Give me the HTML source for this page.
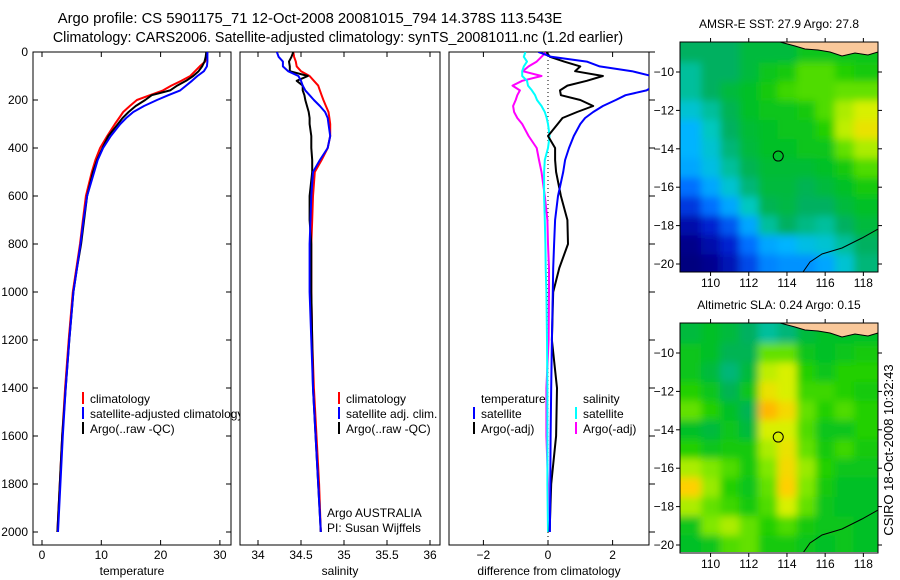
<!DOCTYPE html>
<html><head><meta charset="utf-8">
<style>
html,body{margin:0;padding:0;background:#fff;}
svg{display:block;font-family:"Liberation Sans",sans-serif;}
text{fill:#000;}
</style></head>
<body>
<svg id="fig" width="900" height="580" viewBox="0 0 900 580" xmlns="http://www.w3.org/2000/svg">
<defs>
<clipPath id="c1"><rect x="33" y="52" width="198" height="493"/></clipPath>
<clipPath id="c2"><rect x="240" y="52" width="200" height="493"/></clipPath>
<clipPath id="c3"><rect x="449" y="52" width="200" height="493"/></clipPath>
<clipPath id="cm1"><rect x="680" y="42" width="198" height="230"/></clipPath>
<clipPath id="cm2"><rect x="680" y="323" width="198" height="229"/></clipPath>
<filter id="blur" x="-10%" y="-10%" width="120%" height="120%"><feGaussianBlur stdDeviation="4"/></filter>
</defs>
<text x="310" y="23" font-size="14.8" text-anchor="middle">Argo profile: CS 5901175_71 12-Oct-2008 20081015_794 14.378S 113.543E</text>
<text x="338" y="42" font-size="14.3" text-anchor="middle">Climatology: CARS2006. Satellite-adjusted climatology: synTS_20081011.nc (1.2d earlier)</text>
<g id="g1"></g>
<g id="g2"></g>
<g id="g3"></g>
<g id="m1"></g>
<g id="m2"></g>
<text transform="translate(893,450) rotate(-90)" font-size="13" text-anchor="middle">CSIRO 18-Oct-2008 10:32:43</text>
</svg>
<script>
const depths=[0,20,40,60,80,100,120,140,160,180,200,225,250,275,300,350,400,450,500,600,700,800,900,1000,1200,1400,1600,1800,2000];
const tempClim=[27.9,27.8,27.5,26.6,25.8,25,23.5,21.8,20.4,18.2,16,14.8,13.7,13,12.3,11,9.8,9,8.4,7.4,6.9,6.4,5.8,5.2,4.5,3.9,3.4,3,2.6];
const tempSat=[27.9,27.9,27.9,27.8,27.3,26.2,25.3,24.3,23.3,21.3,19.4,17.2,15.4,14.2,13.2,11.6,10.3,9.4,8.8,7.6,7,6.5,5.9,5.3,4.6,4,3.5,3.1,2.7];
const tempArgo=[27.7,27.6,27.4,27.0,26.4,25.5,24.3,22.8,21.6,18.5,17.4,15.8,14.6,13.6,12.8,11.2,10.2,9.3,8.6,7.6,7.1,6.6,5.9,5.3,4.6,4,3.4,3,2.6];
const salClim=[34.41,34.42,34.44,34.45,34.5,34.6,34.65,34.7,34.72,34.74,34.76,34.79,34.82,34.83,34.84,34.84,34.81,34.74,34.66,34.64,34.63,34.62,34.62,34.62,34.63,34.65,34.68,34.71,34.73];
const salSat=[34.22,34.24,34.29,34.29,34.35,34.47,34.5,34.52,34.55,34.6,34.65,34.72,34.78,34.81,34.82,34.84,34.81,34.72,34.64,34.62,34.61,34.6,34.6,34.6,34.62,34.64,34.67,34.7,34.73];
const salArgo=[34.41,34.39,34.36,34.37,34.37,34.58,34.45,34.52,34.52,34.54,34.55,34.57,34.59,34.6,34.6,34.62,34.62,34.63,34.63,34.6,34.6,34.62,34.62,34.62,34.63,34.64,34.67,34.7,34.73];
const dTempSat=[-0.3,0.1,1.2,1.6,2.6,3.2,3.5,3.3,3.05,2.4,2.1,1.7,1.4,1.15,1.0,0.8,0.65,0.53,0.47,0.31,0.22,0.19,0.16,0.15,0.12,0.1,0.08,0.07,0.06];
const dTempArgo=[-0.05,0.06,0.5,1.0,0.84,1.7,1.2,0.6,0.37,0.4,1.0,1.4,0.9,0.45,0.3,0.0,0.22,0.22,0.25,0.4,0.6,0.62,0.35,0.16,0.12,0.28,0.25,0.1,0.05];
const dSalSat=[-0.7,-0.75,-0.65,-0.75,-0.8,-0.8,-0.65,-0.62,-0.5,-0.4,-0.34,-0.2,-0.1,-0.04,0.0,0.05,0.0,-0.1,-0.12,-0.12,-0.1,-0.08,-0.07,-0.05,-0.03,-0.02,-0.02,-0.02,0.0];
const dSalArgo=[-0.05,-0.2,-0.35,-0.6,-0.78,-0.2,-0.8,-1.1,-0.87,-0.95,-1.0,-1.08,-1.05,-0.95,-0.8,-0.6,-0.35,-0.28,-0.2,-0.1,-0.02,0.0,0.03,0.03,0.02,-0.05,-0.05,0.0,0.02];
const depthTicks=[0,200,400,600,800,1000,1200,1400,1600,1800,2000];
const tempTicks=[0,10,20,30];
const salTicks=[34,34.5,35,35.5,36];
const diffTicks=[-2,0,2];
const mapLons=[109,110,111,112,113,114,115,116,117,118];
const mapLats=[-9,-10,-11,-12,-13,-14,-15,-16,-17,-18,-19,-20];
const lonTicks=[110,112,114,116,118];
const latTicks=[-10,-12,-14,-16,-18,-20];
const sstGrid=[
[0.5,0.5,0.5,0.55,0.55,0.55,0.6,0.6,0.6,0.6],
[0.45,0.5,0.5,0.55,0.6,0.62,0.7,0.7,0.65,0.62],
[0.45,0.5,0.55,0.58,0.62,0.68,0.7,0.7,0.72,0.72],
[0.4,0.45,0.52,0.58,0.6,0.6,0.62,0.7,0.8,0.85],
[0.35,0.42,0.5,0.56,0.58,0.6,0.6,0.65,0.82,0.88],
[0.35,0.4,0.48,0.55,0.58,0.58,0.6,0.6,0.72,0.8],
[0.33,0.38,0.45,0.52,0.56,0.56,0.56,0.58,0.62,0.7],
[0.25,0.33,0.4,0.48,0.55,0.55,0.52,0.55,0.58,0.62],
[0.18,0.25,0.33,0.42,0.52,0.54,0.5,0.5,0.55,0.58],
[0.08,0.15,0.22,0.33,0.45,0.5,0.47,0.45,0.5,0.55],
[0.02,0.08,0.15,0.25,0.33,0.35,0.38,0.4,0.45,0.5],
[0.0,0.03,0.1,0.2,0.28,0.3,0.3,0.33,0.4,0.48]];
const slaGrid=[
[0.55,0.58,0.55,0.5,0.45,0.48,0.55,0.58,0.58,0.58],
[0.6,0.58,0.52,0.52,0.72,0.72,0.6,0.58,0.6,0.62],
[0.6,0.55,0.48,0.55,0.82,0.85,0.65,0.6,0.65,0.65],
[0.65,0.6,0.52,0.6,0.88,0.85,0.68,0.68,0.65,0.62],
[0.72,0.65,0.58,0.52,0.95,0.9,0.72,0.65,0.7,0.65],
[0.58,0.55,0.6,0.55,0.85,0.85,0.7,0.6,0.6,0.65],
[0.65,0.6,0.62,0.62,0.8,0.88,0.72,0.62,0.68,0.62],
[0.8,0.75,0.7,0.62,0.75,0.9,0.78,0.65,0.6,0.6],
[0.92,0.78,0.65,0.6,0.72,0.92,0.75,0.62,0.58,0.58],
[0.8,0.72,0.68,0.62,0.7,0.85,0.72,0.6,0.58,0.58],
[0.6,0.75,0.8,0.72,0.65,0.7,0.62,0.6,0.6,0.58],
[0.58,0.6,0.7,0.72,0.62,0.62,0.6,0.58,0.6,0.58]];
const floatLon=113.543, floatLat=-14.378;

const NS='http://www.w3.org/2000/svg';
function mk(parent,tag,attrs,txt){const e=document.createElementNS(NS,tag);for(const k in attrs)e.setAttribute(k,attrs[k]);if(txt!==undefined)e.textContent=txt;parent.appendChild(e);return e;}
const yD=d=>52+d*0.24;
const xT=t=>42+t*5.93;
const xS=s=>258+(s-34)*86;
const xD=v=>548+v*32.3;

function panel(g,x0,w,xs,ticks,fmt,label,clip){
  const fr=mk(g,'rect',{x:x0,y:52,width:w,height:493,fill:'#fff',stroke:'#000','stroke-width':1});
  
  
  ticks.forEach(t=>{const x=xs(t);
    mk(g,'line',{x1:x,x2:x,y1:545,y2:540,stroke:'#000'});
    mk(g,'line',{x1:x,x2:x,y1:52,y2:57,stroke:'#000'});
    const tl=mk(g,'text',{x:x,y:559,'font-size':12,'text-anchor':'middle'},fmt(t));
    
    
  });
  const xl=mk(g,'text',{x:x0+w/2,y:575,'font-size':12,'text-anchor':'middle'},label);
  
  
  return mk(g,'g',{'clip-path':'url(#'+clip+')'});
}
function line(g,vals,xs,color,name){
  const pts=vals.map((v,i)=>xs(v).toFixed(1)+','+yD(depths[i]).toFixed(1)).join(' ');
  const p=mk(g,'polyline',{points:pts,fill:'none',stroke:color,'stroke-width':2,'stroke-linejoin':'round'});
  
  
}
function legend(g,x,y,color,txt){
  mk(g,'line',{x1:x,x2:x,y1:y-6,y2:y+6,stroke:color,'stroke-width':2});
  const t=mk(g,'text',{x:x+7,y:y+5,'font-size':12},txt);
  
  
}
const g1=document.getElementById('g1'),g2=document.getElementById('g2'),g3=document.getElementById('g3');
const p1=panel(g1,33,198,xT,tempTicks,t=>String(t),'temperature','c1');
depthTicks.forEach(d=>{const y=yD(d);
  mk(g1,'line',{x1:33,x2:38,y1:y,y2:y,stroke:'#000'});
  mk(g1,'line',{x1:231,x2:226,y1:y,y2:y,stroke:'#000'});
  mk(g3,'line',{x1:649,x2:655,y1:y,y2:y,stroke:'#000'});
  const t=mk(g1,'text',{x:28,y:y+4,'font-size':12,'text-anchor':'end'},String(d));
  
  
});
line(p1,tempClim,xT,'#f00','temp-climatology-line');
line(p1,tempArgo,xT,'#000','temp-argo-line');
line(p1,tempSat,xT,'#00f','temp-satellite-line');
legend(g1,83,398,'#f00','climatology');
legend(g1,83,413,'#00f','satellite-adjusted climatology');
legend(g1,83,428,'#000','Argo(..raw -QC)');

const p2=panel(g2,240,200,xS,salTicks,t=>String(t),'salinity','c2');
line(p2,salClim,xS,'#f00','sal-climatology-line');
line(p2,salArgo,xS,'#000','sal-argo-line');
line(p2,salSat,xS,'#00f','sal-satellite-line');
legend(g2,339,398,'#f00','climatology');
legend(g2,339,413,'#00f','satellite adj. clim.');
legend(g2,339,428,'#000','Argo(..raw -QC)');
let t1=mk(g2,'text',{x:327,y:517,'font-size':12},'Argo AUSTRALIA');


let t2=mk(g2,'text',{x:327,y:532,'font-size':12},'PI: Susan Wijffels');



const p3=panel(g3,449,200,xD,diffTicks,t=>t<0?'\u2212'+(-t):String(t),'difference from climatology','c3');
const zl=mk(p3,'line',{x1:xD(0),x2:xD(0),y1:52,y2:545,stroke:'#000','stroke-dasharray':'1,3'});


line(p3,dSalArgo,xD,'#f0f','sal-argo-diff-line');
line(p3,dSalSat,xD,'#0ff','sal-satellite-diff-line');
line(p3,dTempArgo,xD,'#000','temp-argo-diff-line');
line(p3,dTempSat,xD,'#00f','temp-satellite-diff-line');
let lt=mk(g3,'text',{x:481,y:403,'font-size':12},'temperature');


let ls=mk(g3,'text',{x:583,y:403,'font-size':12},'salinity');


legend(g3,474,413,'#00f','satellite');
legend(g3,474,428,'#000','Argo(-adj)');
legend(g3,576,413,'#0ff','satellite');
legend(g3,576,428,'#f0f','Argo(-adj)');

const stops=[[0,[0,0,127]],[0.15,[0,32,208]],[0.25,[0,112,255]],[0.35,[0,180,255]],[0.42,[0,200,192]],[0.5,[0,176,96]],[0.58,[0,192,40]],[0.65,[32,208,0]],[0.75,[128,232,0]],[0.85,[216,240,0]],[0.92,[255,208,0]],[1,[255,144,0]]];
function cmap(v){v=Math.max(0,Math.min(1,v));for(let i=1;i<stops.length;i++){if(v<=stops[i][0]){const a=stops[i-1],b=stops[i],f=(v-a[0])/(b[0]-a[0]);return 'rgb('+a[1].map((c,k)=>Math.round(c+(b[1][k]-c)*f)).join(',')+')';}}return 'rgb(255,144,0)';}
const mx=lon=>680+(lon-108.4)*19.1;
function drawMap(g,grid,oy,title,clip,showX){
  const myy=lat=>oy+72+(-10-lat)*19.2;
  const tt=mk(g,'text',{x:779,y:oy+28,'font-size':12,'text-anchor':'middle'},title);
  
  
  const cg=mk(g,'g',{'clip-path':'url(#'+clip+')'});
  const bg=mk(cg,'g',{filter:'url(#blur)'});
  grid.forEach((row,r)=>row.forEach((v,c)=>{
    let lon=mapLons[c],lat=mapLats[r];
    let x1=mx(lon-0.5),x2=mx(lon+0.5),y1=myy(lat+0.5),y2=myy(lat-0.5);
    if(c===0)x1-=25; if(c===row.length-1)x2+=25; if(r===0)y1-=25; if(r===grid.length-1)y2+=25;
    const cell=mk(bg,'rect',{x:x1,y:y1,width:x2-x1+0.5,height:y2-y1+0.5,fill:cmap(v)});
    
    
  }));
  const land=mk(cg,'path',{d:'M780,'+(oy+42)+' L878,'+(oy+42)+' L878,'+(oy+52)+' L868,'+(oy+55)+' L855,'+(oy+53)+' L842,'+(oy+56)+' L830,'+(oy+52)+' L818,'+(oy+50)+' L805,'+(oy+49)+' L795,'+(oy+46)+' Z',fill:'#f9c89a',stroke:'#000','stroke-width':1});
  
  
  const coast=mk(cg,'polyline',{points:'878,'+(oy+229)+' 862,'+(oy+238)+' 842,'+(oy+248)+' 822,'+(oy+254)+' 810,'+(oy+262)+' 803,'+(oy+272),fill:'none',stroke:'#000','stroke-width':1});
  
  
  const fr=mk(g,'rect',{x:680,y:oy+42,width:198,height:230,fill:'none',stroke:'#000'});
  
  
  const circ=mk(g,'circle',{cx:mx(floatLon),cy:myy(floatLat),r:5,fill:'none',stroke:'#000','stroke-width':1});
  
  
  lonTicks.forEach(l=>{const x=mx(l);
    mk(g,'line',{x1:x,x2:x,y1:oy+272,y2:oy+276,stroke:'#000'});
    mk(g,'line',{x1:x,x2:x,y1:oy+42,y2:oy+38,stroke:'#000'});
    if(showX){const t=mk(g,'text',{x:x,y:oy+287,'font-size':12,'text-anchor':'middle'},String(l));
      
      }
  });
  latTicks.forEach(l=>{const y=myy(l);
    mk(g,'line',{x1:680,x2:676,y1:y,y2:y,stroke:'#000'});
    mk(g,'line',{x1:878,x2:882,y1:y,y2:y,stroke:'#000'});
    const t=mk(g,'text',{x:674,y:y+4,'font-size':12,'text-anchor':'end'},'\u2212'+(-l));
    
    
  });
}
drawMap(document.getElementById('m1'),sstGrid,0,'AMSR-E SST: 27.9 Argo: 27.8','cm1',true);
drawMap(document.getElementById('m2'),slaGrid,281,'Altimetric SLA: 0.24 Argo: 0.15','cm2',true);
</script>
</body></html>
